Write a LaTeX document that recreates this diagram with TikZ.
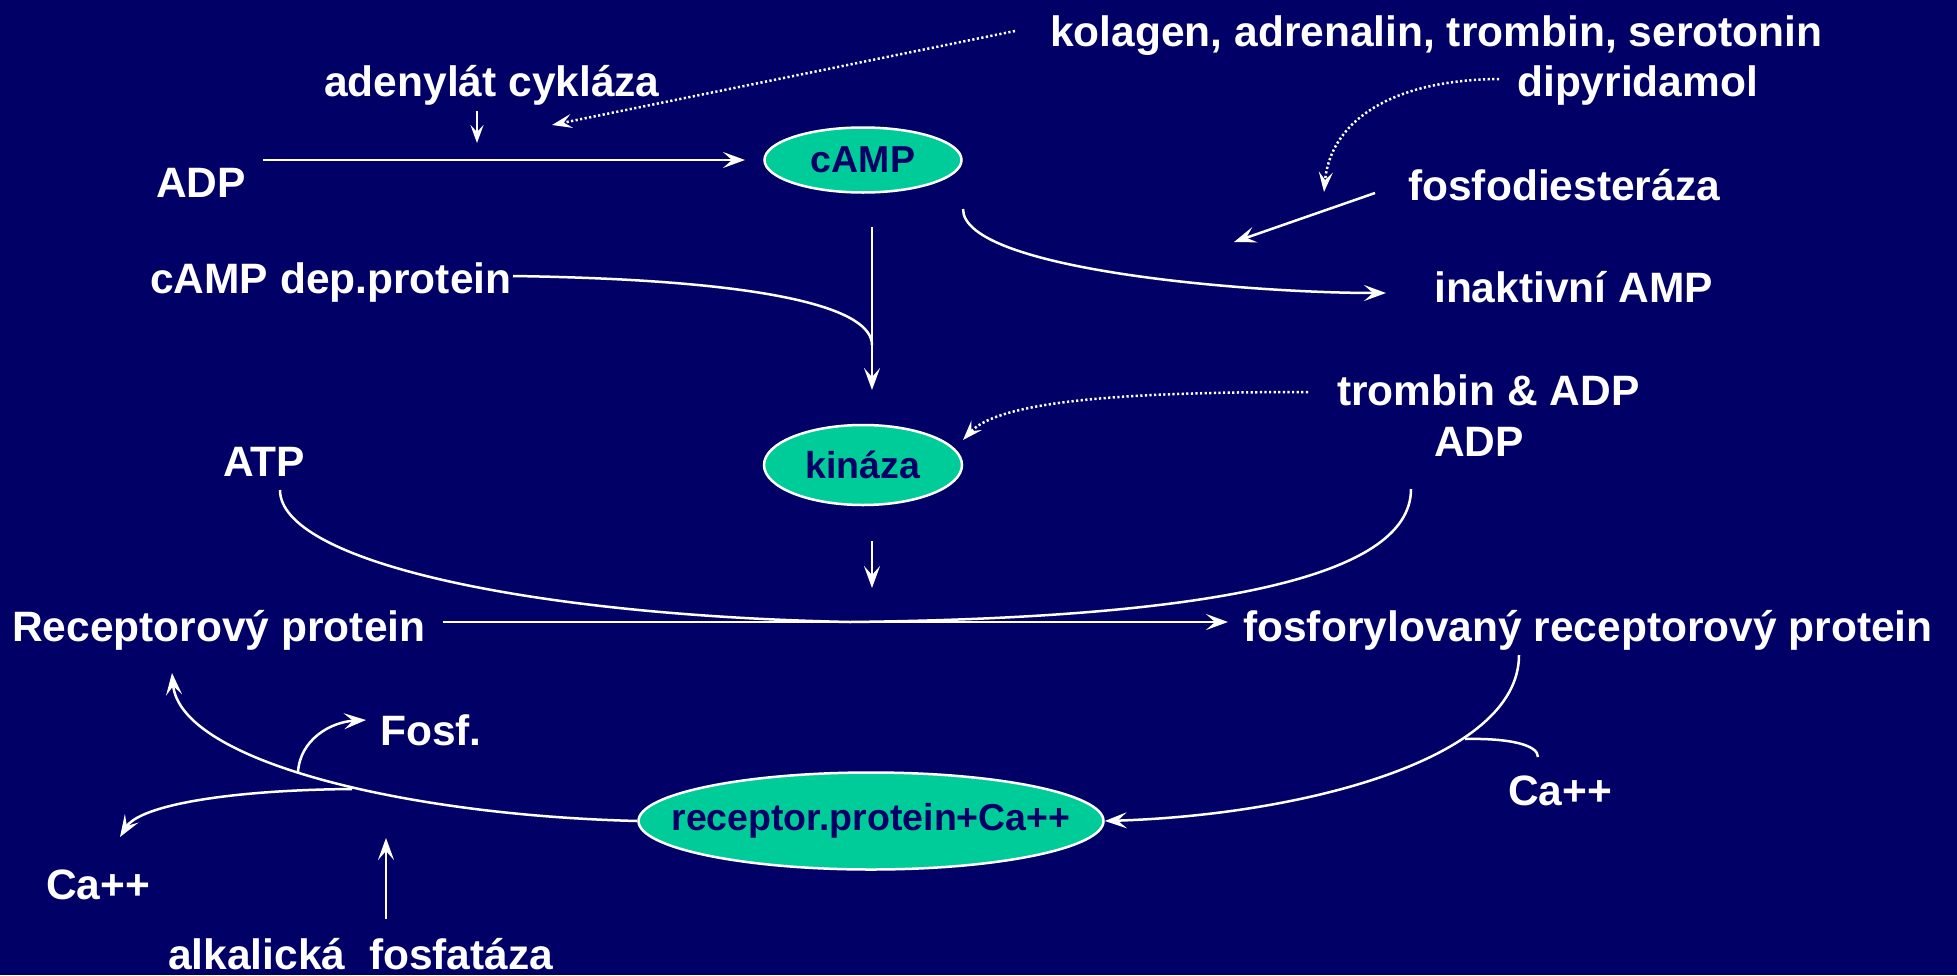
\documentclass[tikz,border=0pt]{standalone}
\usepackage{fontspec}
\setmainfont{Liberation Sans}
\usetikzlibrary{arrows.meta,shapes.geometric}
\definecolor{bgnavy}{RGB}{0,0,102}
\definecolor{ovalfill}{RGB}{0,204,153}
\definecolor{ovaltext}{RGB}{0,0,102}
\begin{document}
\begin{tikzpicture}[x=1pt,y=-1pt,
  lbl/.style={text=white,font=\fontsize{42.5}{50}\selectfont\bfseries,inner sep=0pt,anchor=base west},
  oval/.style={ellipse,draw=white,line width=2.5pt,fill=ovalfill,text=ovaltext,font=\fontsize{37.5}{44}\selectfont\bfseries,inner sep=0pt},
  con/.style={draw=white,line width=2.5pt},
  arr/.style={con,-{Stealth[length=22pt,width=16pt,inset=9pt]}},
  sarr/.style={con,-{Stealth[length=18pt,width=13pt,inset=7pt]}},
  dotline/.style={con,dash pattern=on 2.2pt off 2.4pt}
]
\fill[bgnavy] (0,0) rectangle (1957,975);
\useasboundingbox (0,0) rectangle (1957,975);

% text nodes
\node[lbl] (kol) at (1050,46) {kolagen, adrenalin, trombin, serotonin};
\node[lbl] (dip) at (1517,96) {dipyridamol};
\node[lbl] (ade) at (324,96) {adenylát cykláza};
\node[lbl] (adp) at (156,197) {ADP};
\node[lbl] (fde) at (1408,200) {fosfodiesteráza};
\node[lbl] (cdp) at (150,293) {cAMP dep.protein};
\node[lbl] (iamp) at (1434,302) {inaktivní AMP};
\node[lbl] (tra) at (1337,405) {trombin \& ADP};
\node[lbl] (adp2) at (1434,456) {ADP};
\node[lbl] (atp) at (223,476) {ATP};
\node[lbl] (rp) at (12,641) {Receptorový protein};
\node[lbl] (frp) at (1243,641) {fosforylovaný receptorový protein};
\node[lbl] (fosf) at (380,745) {Fosf.};
\node[lbl] (ca2) at (1508,805) {Ca++};
\node[lbl] (ca1) at (46,899) {Ca++};
\node[lbl] (alk) at (168,969) {alkalická\ \ fosfatáza};

% ovals
\node[oval,minimum width=197pt,minimum height=65pt] (camp) at (863,160) {\makebox[0pt]{\raisebox{-4pt}{cAMP}}};
\node[oval,minimum width=198pt,minimum height=80pt] (kin) at (863,465) {\makebox[0pt]{kináza}};
\node[oval,minimum width=465pt,minimum height=97pt] (rpc) at (871,821) {\makebox[0pt]{receptor.protein+Ca++}};

% free ends
\coordinate (adeA) at (477,111);
\coordinate (adeB) at (477,143);
\coordinate (kolA) at (1015,31);
\coordinate (kolB) at (552,125);
\coordinate (adpA) at (263,160);
\coordinate (adpB) at (745,160);
\coordinate (campA) at (872,227);
\coordinate (campB) at (872,390);
\coordinate (cdpA) at (513,276);
\coordinate (cdpB) at (872,345);
\coordinate (camp2) at (963,209);
\coordinate (iampB) at (1386,293);
\coordinate (fdeA) at (1375,193);
\coordinate (fdeB) at (1234,242);
\coordinate (dipA) at (1499,79);
\coordinate (dipB) at (1324,192);
\coordinate (traA) at (1308,392);
\coordinate (kinB) at (963,440);
\coordinate (kinA) at (872,541);
\coordinate (kinC) at (872,588);
\coordinate (atpA) at (280,490);
\coordinate (merge) at (850,622);
\coordinate (adp2A) at (1411,489);
\coordinate (rpA) at (443,622);
\coordinate (frpB) at (1228,622);
\coordinate (frpA) at (1519,655);
\coordinate (caA) at (1465,739);
\coordinate (caB) at (1538,757);
\coordinate (rpB) at (172,673);
\coordinate (brF) at (298,772);
\coordinate (fosfB) at (366,720);
\coordinate (brC) at (352,789);
\coordinate (ca1B) at (120,837);
\coordinate (alkA) at (386,919);
\coordinate (alkB) at (386,838);

% connectors
\draw[sarr] (adeA) -- (adeB);
\draw[dotline,-{Stealth[length=20pt,width=14pt,inset=8pt]}] (kolA) -- (kolB);
\draw[arr] (adpA) -- (adpB);
\draw[arr] (campA) -- (campB);
\draw[con] (cdpA) .. controls (780,280) and (872,310) .. (cdpB);
\draw[arr] (camp2) .. controls (963,270) and (1250,293) .. (iampB);
\draw[arr] (fdeA) -- (fdeB);
\draw[dotline,-{Stealth[length=20pt,width=14pt,inset=8pt]}] (dipA) .. controls (1385,80) and (1330,125) .. (dipB);
\draw[dotline,-{Stealth[length=20pt,width=14pt,inset=8pt]}] (traA) .. controls (1130,392) and (1000,400) .. (kinB);
\draw[arr] (kinA) -- (kinC);
\draw[con] (atpA) .. controls (280,560) and (520,615) .. (merge);
\draw[con] (adp2A) .. controls (1411,580) and (1200,618) .. (merge);
\draw[arr] (rpA) -- (frpB);
\draw[arr] (frpA) .. controls (1519,760) and (1300,815) .. (rpc.east);
\draw[con] (caA) .. controls (1510,738) and (1538,745) .. (caB);
\draw[arr] (rpc.west) .. controls (400,815) and (180,760) .. (rpB);
\draw[arr] (brF) .. controls (300,740) and (330,722) .. (fosfB);
\draw[arr] (brC) .. controls (230,790) and (140,805) .. (ca1B);
\draw[arr] (alkA) -- (alkB);
\end{tikzpicture}
\end{document}
